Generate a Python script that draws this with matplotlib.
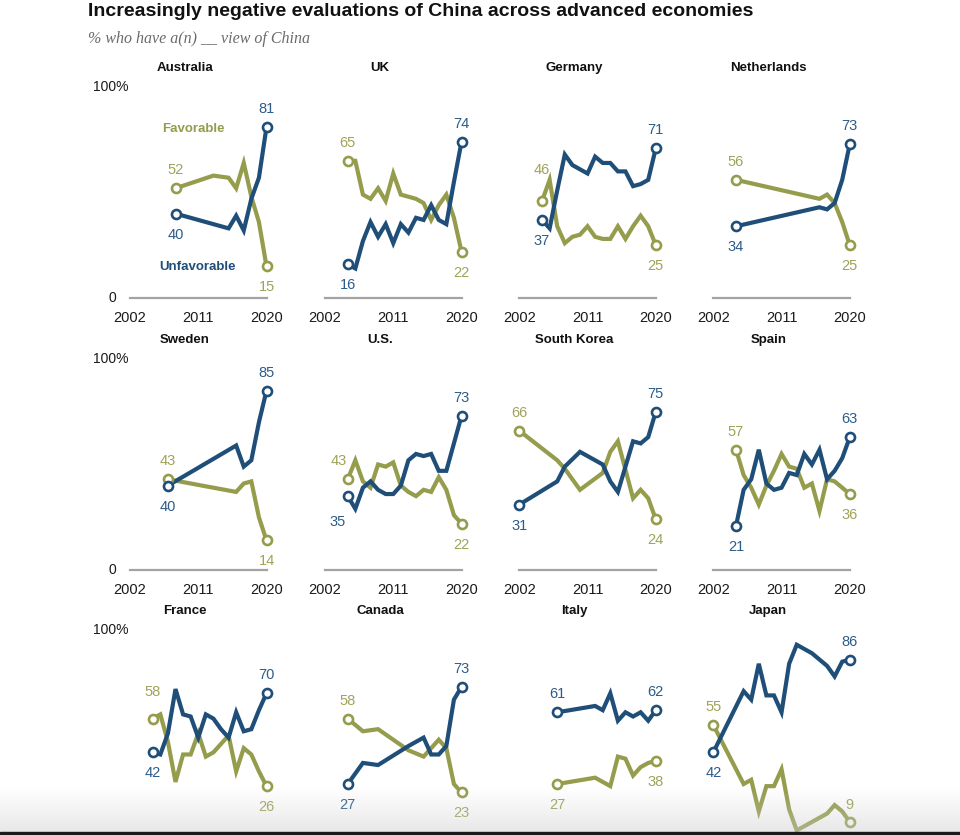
import matplotlib.pyplot as plt
import numpy as np
from matplotlib.patches import Rectangle

# Pew-style colours
olive = '#959c4c'
blue = '#1f4e79'
olive_text = '#9fa359'
blue_text = '#2d5c89'

title = 'Increasingly negative evaluations of China across advanced economies'
subtitle = '% who have a(n) __ view of China'

# Data, % favorable / unfavorable by survey year
australia_years = [2008, 2013, 2015, 2016, 2017, 2018, 2019, 2020]
australia_fav = [52, 58, 57, 52, 64, 48, 36, 15]
australia_unfav = [40, 35, 33, 39, 32, 47, 57, 81]

uk_years = [2005, 2006, 2007, 2008, 2009, 2010, 2011, 2012, 2013, 2014, 2015, 2016, 2017, 2018, 2019, 2020]
uk_fav = [65, 65, 49, 47, 52, 46, 59, 49, 48, 47, 45, 37, 44, 49, 38, 22]
uk_unfav = [16, 14, 27, 36, 29, 35, 26, 35, 31, 38, 37, 44, 37, 35, 55, 74]

germany_years = [2005, 2006, 2007, 2008, 2009, 2010, 2011, 2012, 2013, 2014, 2015, 2016, 2017, 2018, 2019, 2020]
germany_fav = [46, 56, 34, 26, 29, 30, 34, 29, 28, 28, 34, 28, 34, 39, 34, 25]
germany_unfav = [37, 33, 51, 68, 63, 61, 59, 67, 64, 64, 60, 60, 53, 54, 56, 71]

netherlands_years = [2005, 2016, 2017, 2018, 2019, 2020]
netherlands_fav = [56, 47, 49, 45, 36, 25]
netherlands_unfav = [34, 43, 42, 45, 56, 73]

sweden_years = [2007, 2016, 2017, 2018, 2019, 2020]
sweden_fav = [43, 37, 41, 42, 25, 14]
sweden_unfav = [40, 59, 49, 52, 70, 85]

us_years = [2005, 2006, 2007, 2008, 2009, 2010, 2011, 2012, 2013, 2014, 2015, 2016, 2017, 2018, 2019, 2020]
us_fav = [43, 52, 42, 39, 50, 49, 51, 40, 37, 35, 38, 37, 44, 38, 26, 22]
us_unfav = [35, 29, 39, 42, 38, 36, 36, 40, 52, 55, 54, 55, 47, 47, 60, 73]

korea_years = [2002, 2007, 2008, 2010, 2013, 2014, 2015, 2017, 2018, 2019, 2020]
korea_fav = [66, 52, 48, 38, 46, 56, 61, 34, 38, 34, 24]
korea_unfav = [31, 42, 49, 56, 50, 42, 37, 61, 60, 63, 75]

spain_years = [2005, 2006, 2007, 2008, 2009, 2010, 2011, 2012, 2013, 2014, 2015, 2016, 2017, 2018, 2019, 2020]
spain_fav = [57, 45, 39, 31, 40, 47, 55, 49, 48, 39, 41, 28, 43, 42, 39, 36]
spain_unfav = [21, 38, 43, 57, 41, 38, 39, 46, 45, 55, 50, 57, 43, 47, 53, 63]

france_years = [2005, 2006, 2007, 2008, 2009, 2010, 2011, 2012, 2013, 2014, 2015, 2016, 2017, 2018, 2019, 2020]
france_fav = [58, 60, 47, 28, 41, 41, 51, 40, 42, 46, 50, 33, 44, 41, 33, 26]
france_unfav = [42, 41, 51, 72, 60, 59, 49, 60, 58, 53, 49, 61, 52, 53, 62, 70]

canada_years = [2005, 2007, 2009, 2013, 2015, 2016, 2017, 2018, 2019, 2020]
canada_fav = [58, 52, 53, 43, 40, 44, 48, 44, 27, 23]
canada_unfav = [27, 37, 36, 45, 49, 41, 41, 45, 67, 73]

italy_years = [2007, 2012, 2013, 2014, 2015, 2016, 2017, 2018, 2019, 2020]
italy_fav = [27, 30, 28, 26, 40, 39, 31, 35, 37, 38]
italy_unfav = [61, 64, 62, 70, 57, 61, 59, 61, 57, 62]

japan_years = [2002, 2006, 2007, 2008, 2009, 2010, 2011, 2012, 2013, 2014, 2015, 2016, 2017, 2018, 2019, 2020]
japan_fav = [55, 27, 29, 14, 26, 26, 34, 15, 5, 7, 9, 11, 13, 17, 14, 9]
japan_unfav = [42, 71, 67, 84, 69, 69, 61, 84, 93, 91, 89, 86, 83, 78, 85, 86]

panels = [
    [('Australia', australia_years, australia_fav, australia_unfav),
     ('UK', uk_years, uk_fav, uk_unfav),
     ('Germany', germany_years, germany_fav, germany_unfav),
     ('Netherlands', netherlands_years, netherlands_fav, netherlands_unfav)],
    [('Sweden', sweden_years, sweden_fav, sweden_unfav),
     ('U.S.', us_years, us_fav, us_unfav),
     ('South Korea', korea_years, korea_fav, korea_unfav),
     ('Spain', spain_years, spain_fav, spain_unfav)],
    [('France', france_years, france_fav, france_unfav),
     ('Canada', canada_years, canada_fav, canada_unfav),
     ('Italy', italy_years, italy_fav, italy_unfav),
     ('Japan', japan_years, japan_fav, japan_unfav)],
]

# label offsets (pixels) that differ from the default above/below placement
label_offsets = {
    ('Germany', 'fav', 0): (0, 32),
    ('France', 'fav', 0): (0, 28),
    ('U.S.', 'fav', 0): (-9, 19),
    ('U.S.', 'unfav', 0): (-10, -25),
    ('Japan', 'fav', -1): (0, 18),
}

W, H = 960, 835
col_x = [130, 325, 519.3, 713.3]   # pixel x of 2002
row_base = [298, 570, 841]         # pixel y of the 0 line
pan_w, pan_h = 136.5, 211

num_font = 'Liberation Sans'


def px(v):
    # pixels -> points at 100 dpi
    return v * 0.72


def value_label(ax, x, y, color, dx, dy):
    ax.annotate(str(y), xy=(x, y), xytext=(px(dx), px(dy - 5)),
                textcoords='offset points', ha='center', va='baseline',
                color=color, fontsize=10.5, family=num_font,
                annotation_clip=False)


fig = plt.figure(figsize=(W / 100, H / 100), dpi=100)

for r, row in enumerate(panels):
    # the bottom row's axis falls below the edge of the screenshot
    visible_axis = row_base[r] < H
    for c, (name, years, fav, unfav) in enumerate(row):
        ax = fig.add_axes([col_x[c] / W, (H - row_base[r]) / H, pan_w / W, pan_h / H])
        ax.set_xlim(2002, 2020)
        ax.set_ylim(0, 100)

        for s in ['top', 'right', 'left']:
            ax.spines[s].set_visible(False)
        ax.spines['bottom'].set_color('#a3a3a3')
        ax.spines['bottom'].set_linewidth(1.6)
        ax.set_yticks([])
        ax.set_xticks([2002, 2011, 2020])
        ax.tick_params(axis='x', length=0, pad=9.5, labelsize=10.5, labelcolor='#1a1a1a',
                       labelbottom=visible_axis)
        for lab in ax.get_xticklabels():
            lab.set_family(num_font)
        ax.patch.set_alpha(0)

        # lines
        for vals, col, z in [(fav, olive, 3), (unfav, blue, 4)]:
            ax.plot(years, vals, color=col, lw=3, solid_joinstyle='miter',
                    clip_on=False, zorder=z)
            ax.plot([years[0], years[-1]], [vals[0], vals[-1]], 'o', ms=6.5,
                    mfc='white', mec=col, mew=1.9, clip_on=False, zorder=z + 2)

        # start and end value labels
        for i in [0, -1]:
            for key, vals, other, tcol in [('fav', fav, unfav, olive_text),
                                           ('unfav', unfav, fav, blue_text)]:
                dy = 19 if vals[i] >= other[i] else -20
                dx, dy = label_offsets.get((name, key, i), (0, dy))
                value_label(ax, years[i], vals[i], tcol, dx, dy)

        # country name
        ax.text(55 / pan_w, 230 / pan_h, name, transform=ax.transAxes,
                ha='center', va='center', fontsize=9.5, fontweight='bold',
                family='Liberation Sans', color='#111111')

        # y-axis labels on the first column
        if c == 0:
            ax.annotate('100%', xy=(2002, 100), xytext=(px(-2), 0),
                        textcoords='offset points', ha='right', va='center',
                        fontsize=10, family=num_font, color='#1a1a1a',
                        annotation_clip=False)
            if visible_axis:
                ax.annotate('0', xy=(2002, 0), xytext=(px(-14), 0),
                            textcoords='offset points', ha='right', va='center',
                            fontsize=10, family=num_font, color='#1a1a1a',
                            annotation_clip=False)

        # series names in the first panel
        if r == 0 and c == 0:
            ax.text(2010.4, 80, 'Favorable', ha='center', va='center', color=olive,
                    fontsize=9.5, fontweight='bold', family='Liberation Sans')
            ax.text(2010.9, 14.7, 'Unfavorable', ha='center', va='center', color=blue,
                    fontsize=9.5, fontweight='bold', family='Liberation Sans')

# title and subtitle
fig.text(88 / W, 1 - 11 / H, title, ha='left', va='center', fontsize=14,
         fontweight='bold', family='Liberation Sans', color='#111111')
fig.text(88 / W, 1 - 39 / H, subtitle, ha='left', va='center', fontsize=11.5,
         style='italic', family='Liberation Serif', color='#6b6b6b')

# faint grey fade and dark edge at the bottom of the screenshot
gax = fig.add_axes([0, 3 / H, 1, 45 / H], zorder=20)
grad = np.zeros((50, 1, 4))
grad[:, :, :3] = 0.8
grad[:, 0, 3] = np.linspace(0, 0.45, 50)
gax.imshow(grad, aspect='auto', extent=[0, 1, 0, 1])
gax.axis('off')
fig.patches.append(Rectangle((0, 0), 1, 3 / H, transform=fig.transFigure,
                             color='#1a1a1a', zorder=30))

plt.savefig('out.png', dpi=100)
